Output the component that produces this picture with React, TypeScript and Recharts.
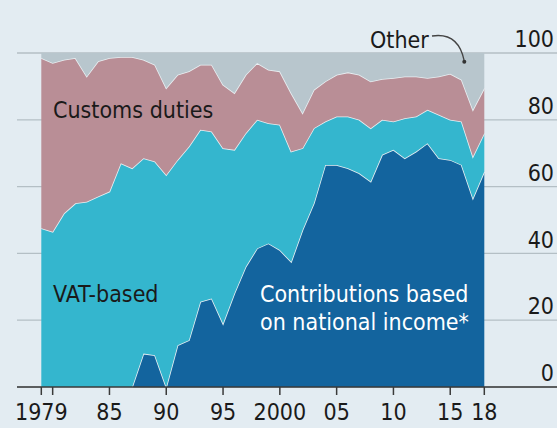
import { AreaChart, Area, XAxis, YAxis, CartesianGrid } from "recharts";

const FONT = "'Liberation Sans Narrow', 'DejaVu Sans Condensed', Roboto, sans-serif";

// shares of EU revenue, % of total
const years = [
  1979, 1980, 1981, 1982, 1983, 1984, 1985, 1986, 1987, 1988,
  1989, 1990, 1991, 1992, 1993, 1994, 1995, 1996, 1997, 1998,
  1999, 2000, 2001, 2002, 2003, 2004, 2005, 2006, 2007, 2008,
  2009, 2010, 2011, 2012, 2013, 2014, 2015, 2016, 2017, 2018,
];
const gniShare = [
  0, 0, 0, 0, 0, 0, 0, 0, 0, 10,
  9.5, 0, 12.5, 14, 25.5, 26.5, 19, 28, 36, 41.5,
  43, 41, 37.5, 47, 55, 66.5, 66.5, 65.5, 64, 61.5,
  69.5, 71, 68.5, 70.5, 73, 68.5, 68, 66.5, 56.5, 64.5,
];
const vatShare = [
  47.5, 46.5, 52, 55, 55.5, 57, 58.5, 67, 65.5, 58.5,
  58, 63.5, 55.5, 58, 51.5, 50, 52.5, 43, 40, 38.5,
  36, 37.5, 33, 24.5, 22.5, 13, 14.5, 15.5, 16, 16,
  10.5, 8.5, 12, 10.5, 10, 13, 12, 13, 12.5, 11.5,
];
const customsShare = [
  51, 50.5, 46, 43.5, 37.5, 40.5, 40, 31.8, 33.3, 29.5,
  29, 26, 25.5, 22.5, 19.5, 20, 19, 17, 17.5, 17,
  16, 16, 17.5, 10.5, 11.5, 12, 12.5, 13.2, 13.5, 14,
  12.2, 13, 12.5, 12, 9.5, 11.5, 13.8, 12.5, 14, 13.5,
];
const otherShare = [
  1.5, 3, 2, 1.5, 7, 2.5, 1.5, 1.2, 1.2, 2,
  3.5, 10.5, 6.5, 5.5, 3.5, 3.5, 9.5, 12, 6.5, 3,
  5, 5.5, 12, 18, 11, 8.5, 6.5, 5.8, 6.5, 8.5,
  7.8, 7.5, 7, 7, 7.5, 7, 6.2, 8, 17, 10.5,
];
const xTicks = [1979, 1980, 1985, 1990, 1995, 2000, 2005, 2010, 2015, 2018];
const yTicks = [0, 20, 40, 60, 80, 100];

const data = years.map((year, i) => ({
  year,
  gni: gniShare[i],
  vat: vatShare[i],
  customs: customsShare[i],
  other: otherShare[i],
}));

const fmtYear = (y: number) => {
  if (y === 1980) return "";
  if (y === 1979 || y === 2000) return String(y);
  return String(y).slice(2);
};

export default function App() {
  return (
    <div
      style={{
        position: "fixed",
        left: 0,
        top: 0,
        width: 557,
        height: 428,
        background: "#e3ecf2",
        fontFamily: FONT,
      }}
    >
      <AreaChart
        width={557}
        height={428}
        data={data}
        margin={{ top: 53, right: 0, bottom: 0, left: 17 }}
      >
        <CartesianGrid horizontal vertical={false} stroke="#b4bfc5" strokeWidth={1.3} />
        <XAxis
          dataKey="year"
          type="number"
          domain={[1976.86, 2024.4]}
          allowDataOverflow
          ticks={xTicks}
          tickFormatter={fmtYear}
          interval={0}
          height={41}
          tickSize={8}
          tickMargin={9}
          stroke="#3a3a3a"
          strokeWidth={1.5}
          tick={{ fill: "#1a1a1a", fontSize: 23, fontFamily: FONT }}
        />
        <YAxis
          orientation="right"
          mirror
          width={60}
          domain={[0, 100]}
          ticks={yTicks}
          interval={0}
          axisLine={false}
          tickLine={false}
          tickSize={0}
          tickMargin={3}
          tick={{ fill: "#1a1a1a", fontSize: 23, fontFamily: FONT, dy: -14 }}
        />
        <Area
          type="linear"
          dataKey="gni"
          stackId="1"
          fill="#13649e"
          fillOpacity={1}
          stroke="#e9eff2"
          strokeWidth={1.6}
          isAnimationActive={false}
        />
        <Area
          type="linear"
          dataKey="vat"
          stackId="1"
          fill="#34b6ce"
          fillOpacity={1}
          stroke="#e9eff2"
          strokeWidth={1.6}
          isAnimationActive={false}
        />
        <Area
          type="linear"
          dataKey="customs"
          stackId="1"
          fill="#b98e96"
          fillOpacity={1}
          stroke="#e9eff2"
          strokeWidth={1.6}
          isAnimationActive={false}
        />
        <Area
          type="linear"
          dataKey="other"
          stackId="1"
          fill="#b8c6cd"
          fillOpacity={1}
          stroke="none"
          isAnimationActive={false}
        />
      </AreaChart>
      <svg
        width={557}
        height={428}
        style={{ position: "absolute", left: 0, top: 0, pointerEvents: "none" }}
        fontFamily={FONT}
        fontSize={23}
      >
        <text x={53} y={118} fill="#1a1a1a">Customs duties</text>
        <text x={53} y={302} fill="#1a1a1a">VAT-based</text>
        <text x={260} y={302} fill="#ffffff">Contributions based</text>
        <text x={260} y={330} fill="#ffffff">on national income*</text>
        <text x={370} y={48} fill="#1a1a1a">Other</text>
        <path d="M 432 36 Q 458 32 464 60" fill="none" stroke="#444" strokeWidth={1.3} />
        <circle cx={464.3} cy={61.7} r={2} fill="#333" />
      </svg>
    </div>
  );
}
